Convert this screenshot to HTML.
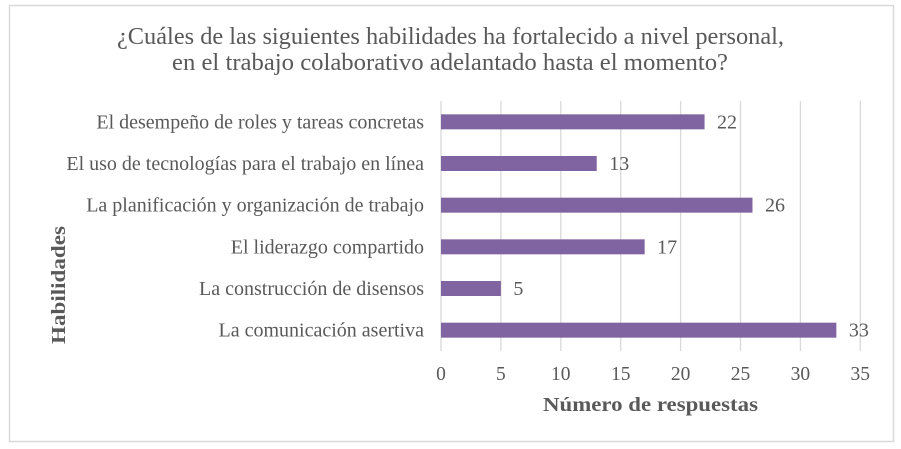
<!DOCTYPE html>
<html lang="es">
<head>
<meta charset="utf-8">
<title>Habilidades</title>
<style>
html,body{margin:0;padding:0;background:#fff;width:901px;height:449px;overflow:hidden}
svg{display:block}
text{font-family:"Liberation Serif",serif;fill:#595959}
</style>
</head>
<body>
<svg id="chart" width="901" height="449" viewBox="0 0 901 449" xmlns="http://www.w3.org/2000/svg">
  <rect x="9.5" y="5.5" width="884" height="436" fill="#fff" stroke="#d9d9d9" stroke-width="1.5"/>
  <text x="450.5" y="44" text-anchor="middle" font-size="24" textLength="667" lengthAdjust="spacingAndGlyphs">¿Cuáles de las siguientes habilidades ha fortalecido a nivel personal,</text>
  <text x="450" y="70" text-anchor="middle" font-size="24" textLength="556" lengthAdjust="spacingAndGlyphs">en el trabajo colaborativo adelantado hasta el momento?</text>
  <g id="grid"></g>
  <g id="bars"></g>
  <g id="cats"></g>
  <g id="vals"></g>
  <g id="ticks"></g>
  <text x="650.5" y="411" text-anchor="middle" font-size="20" font-weight="bold" textLength="215" lengthAdjust="spacingAndGlyphs">Número de respuestas</text>
  <text transform="translate(65,285) rotate(-90)" text-anchor="middle" font-size="20" font-weight="bold" textLength="118" lengthAdjust="spacingAndGlyphs">Habilidades</text>
</svg>
<script>
const categories = [
  "El desempeño de roles y tareas concretas",
  "El uso de tecnologías para el trabajo en línea",
  "La planificación y organización de trabajo",
  "El liderazgo compartido",
  "La construcción de disensos",
  "La comunicación asertiva"
];
const responses = [22, 13, 26, 17, 5, 33];
const tickLabels = [0, 5, 10, 15, 20, 25, 30, 35];

const NS = "http://www.w3.org/2000/svg";
const plot = { left: 441, right: 860.3, top: 101, bottom: 351 };
const axisMax = tickLabels[tickLabels.length - 1];
function xScale(v) { return plot.left + (plot.right - plot.left) * v / axisMax; }
function yCenter(i) { return plot.top + (plot.bottom - plot.top) * (i + 0.5) / categories.length; }
function make(tag, attrs, parent) {
  const el = document.createElementNS(NS, tag);
  for (const k in attrs) el.setAttribute(k, attrs[k]);
  parent.appendChild(el);
  return el;
}

tickLabels.forEach(function (t) {
  const line = make("line", { x1: xScale(t), x2: xScale(t), y1: plot.top, y2: plot.bottom, stroke: "#d9d9d9", "stroke-width": 1.3 }, document.getElementById("grid"));
  
  
  const label = make("text", { x: xScale(t), y: 380, "text-anchor": "middle", "font-size": 19.5 }, document.getElementById("ticks"));
  
  
  label.textContent = t;
});

categories.forEach(function (c, i) {
  const v = responses[i];
  const y = yCenter(i);
  const bar = make("rect", { x: xScale(0), y: y - 7.5, width: xScale(v) - xScale(0), height: 15, fill: "#8064a2" }, document.getElementById("bars"));
  
  
  const cat = make("text", { x: 424, y: y + 6.5, "text-anchor": "end", "font-size": 20 }, document.getElementById("cats"));
  
  
  cat.textContent = c;
  const val = make("text", { x: xScale(v) + 12.5, y: y + 6.5, "font-size": 20, fill: "#404040" }, document.getElementById("vals"));
  
  
  val.textContent = v;
});
</script>
</body>
</html>
